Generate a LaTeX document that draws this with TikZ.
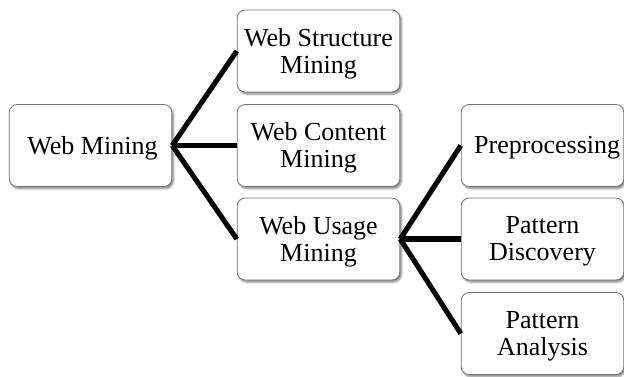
\documentclass[tikz,border=0pt]{standalone}
\usepackage{fontspec}
\setmainfont{Liberation Serif}
\usetikzlibrary{shadows.blur}
\begin{document}
\begin{tikzpicture}[x=0.75pt,y=-0.75pt,
  box/.style={draw=black!55, line width=0.6pt, fill=white, rounded corners=6pt,
    minimum width=122pt, minimum height=61.5pt, inner sep=0pt,
    blur shadow={shadow xshift=1.2pt, shadow yshift=-1.6pt, shadow blur steps=4, shadow opacity=50, shadow blur radius=1.5pt}},
  lbl/.style={inner sep=0pt, align=center, font=\fontsize{19.5}{20.3}\selectfont},
  conn/.style={line width=3.8pt, black}]
\useasboundingbox (0,0) rectangle (624,376);
\node[box] (wm) at (90.5,145.5) {};
\node[box] (ws) at (318.5,51) {};
\node[box] (wc) at (318.5,145.5) {};
\node[box] (wu) at (318.5,239) {};
\node[box] (pp) at (542.5,145.5) {};
\node[box] (pd) at (542.5,239) {};
\node[box] (pa) at (542.5,333.5) {};
\node[lbl] (wmt) at ([xshift=1.5pt,yshift=-2pt]wm.center) {Web Mining};
\node[lbl] (wst) at ([yshift=-2pt]ws.center) {Web Structure\\Mining};
\node[lbl] (wct) at ([yshift=-2pt]wc.center) {Web Content\\Mining};
\node[lbl] (wut) at ([yshift=-2pt]wu.center) {Web Usage\\Mining};
\node[lbl] (ppt) at ([xshift=3.5pt,yshift=-2pt]pp.center) {Preprocessing};
\node[lbl] (pdt) at ([yshift=-2pt]pd.center) {Pattern\\Discovery};
\node[lbl] (pat) at ([yshift=-2pt]pa.center) {Pattern\\Analysis};
\draw[conn] (wm.east) -- (ws.west);
\draw[conn] (wm.east) -- (wc.west);
\draw[conn] (wm.east) -- (wu.west);
\draw[conn] (wu.east) -- (pp.west);
\draw[conn] (wu.east) -- (pd.west);
\draw[conn] (wu.east) -- (pa.west);
\end{tikzpicture}
\end{document}
